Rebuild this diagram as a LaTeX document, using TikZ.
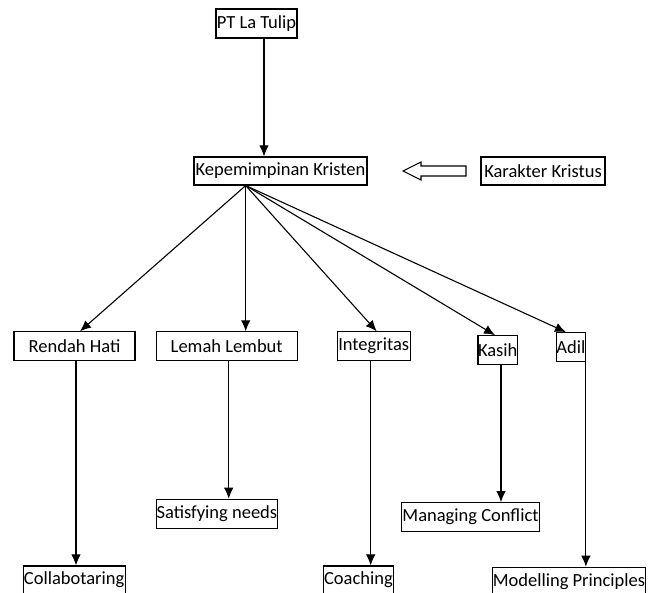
\documentclass[tikz,border=0pt]{standalone}
\usepackage{fontspec}
\setmainfont{Carlito}
\usetikzlibrary{arrows.meta,calc}
\begin{document}
\begin{tikzpicture}[x=1pt,y=-1pt,
  bx/.style={draw=black,line width=1.1pt,rectangle,inner sep=0pt,fill=white,
    font=\fontsize{18.5}{20}\selectfont},
  arr/.style={draw=black,line width=1.1pt,-{Latex[length=11pt,width=9.5pt]}},
  ln/.style={draw=black,line width=1.1pt}]
\useasboundingbox (0,0) rectangle (657,593);
\clip (0,0) rectangle (657,593);
\fill[white] (0,0) rectangle (657,593);
% nodes
\node[bx,minimum width=81pt,minimum height=29pt] (pt) at (256.5,23.5) {PT La Tulip};
\node[bx,minimum width=173pt,minimum height=28pt] (kk) at (280.5,171) {Kepemimpinan Kristen};
\node[bx,minimum width=124pt,minimum height=28pt] (kar) at (543,171) {Karakter Kristus};
\node[bx,minimum width=121pt,minimum height=28.3pt] (rh) at (74.5,346) {Rendah Hati};
\node[bx,minimum width=141pt,minimum height=28.3pt] (ll) at (226.7,346) {Lemah Lembut};
\node[bx,minimum width=72.7pt,minimum height=28.3pt] (ig) at (373.7,346) {Integritas};
\node[bx,minimum width=39.3pt,minimum height=28.6pt] (ka) at (497.7,350) {Kasih};
\node[bx,minimum width=28.3pt,minimum height=29pt] (ad) at (570.9,347.2) {Adil};
\node[bx,minimum width=121.7pt,minimum height=29.4pt] (sn) at (216.9,514) {Satisfying needs};
\node[bx,minimum width=137.6pt,minimum height=28.6pt] (mc) at (470.5,517) {Managing Conflict};
\node[bx,minimum width=101.7pt,minimum height=28pt] (co) at (74.2,580) {Collabotaring};
\node[bx,minimum width=70pt,minimum height=28pt] (ch) at (358.4,580) {Coaching};
\node[bx,minimum width=152.6pt,minimum height=28pt] (mp) at (569,581.3) {Modelling Principles};
% hub point under Kepemimpinan Kristen
\coordinate (hub) at ([xshift=-34.8pt]kk.south);
% connectors
\draw[arr] ([xshift=7.5pt]pt.south) -- ([xshift=7.5pt]pt.south |- kk.north);
\draw[arr] (hub) -- ([xshift=5.5pt]rh.north);
\draw[arr] (hub) -- (hub |- ll.north);
\draw[arr] (hub) -- ([xshift=3pt]ig.north);
\draw[arr] (hub) -- ([xshift=-2.7pt]ka.north);
\draw[arr] (hub) -- ([xshift=-4.9pt]ad.north);
\draw[arr] ([xshift=1.5pt]rh.south) -- ([xshift=1.5pt]rh.south |- co.north);
\draw[arr] ([xshift=2pt]ll.south) -- ([xshift=2pt]ll.south |- sn.north);
\draw[arr] ([xshift=-3pt]ig.south) -- ([xshift=-3pt]ig.south |- ch.north);
\draw[arr] ([xshift=3.3pt]ka.south) -- ([xshift=3.3pt]ka.south |- mc.north);
\draw[arr] (ad.south east) -- (ad.south east |- mp.north);
% hollow block arrow from Karakter Kristus toward Kepemimpinan Kristen
\draw[ln,fill=white,line join=miter] (403,171) -- (421,162) -- (421,166) -- (466,166) -- (466,176) -- (421,176) -- (421,180) -- cycle;
\end{tikzpicture}
\end{document}
